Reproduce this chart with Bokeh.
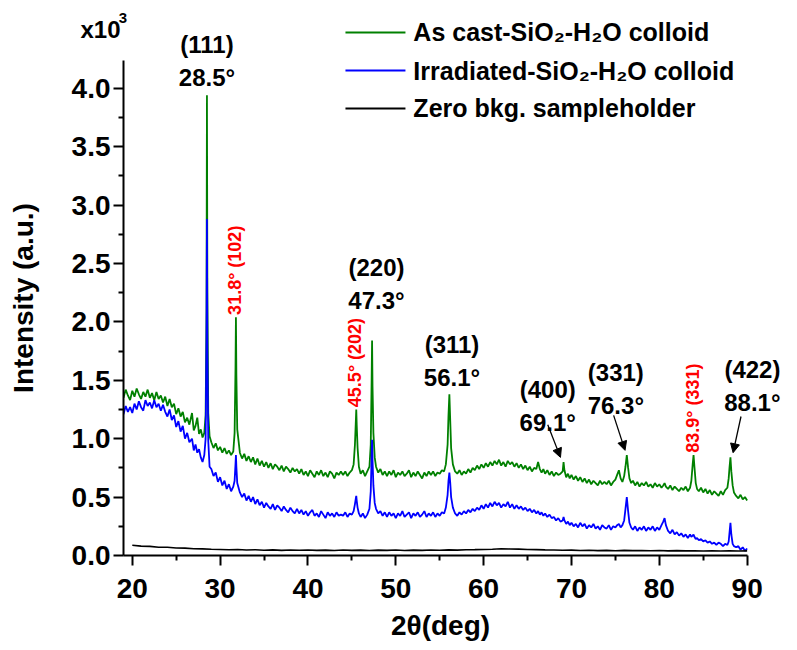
from bokeh.plotting import figure
from bokeh.models import FixedTicker, PrintfTickFormatter, Arrow, NormalHead, Range1d
from bokeh.core.properties import value
from bokeh.embed import file_html
from bokeh.resources import INLINE

# 2θ positions (deg) shared by the two colloid scans, one row per 5 degrees
two_theta = [
    19.0, 19.25, 19.5, 19.75, 20.0, 20.25, 20.5, 20.75, 21.0, 21.25, 21.5, 21.75, 22.0, 22.25, 22.5, 22.75, 23.0, 23.25, 23.5, 23.75,
    24.0, 24.25, 24.5, 24.75, 25.0, 25.25, 25.5, 25.75, 26.0, 26.25, 26.5, 26.8, 27.0, 27.2, 27.4, 27.6, 27.8, 28.0, 28.2, 28.35, 28.45, 28.5, 28.55, 28.65, 28.8,
    29.0, 29.25, 29.5, 29.75, 30.0, 30.25, 30.5, 30.75, 31.0, 31.25, 31.5, 31.65, 31.75, 31.8, 31.85, 31.95, 32.25, 32.5, 32.75, 33.0, 33.25, 33.5, 33.75,
    34.0, 34.25, 34.5, 34.75, 35.0, 35.25, 35.5, 35.75, 36.0, 36.25, 36.5, 36.75, 37.0, 37.25, 37.5, 37.75, 38.0, 38.25, 38.5, 38.75,
    39.0, 39.25, 39.5, 39.75, 40.0, 40.25, 40.5, 40.75, 41.0, 41.25, 41.5, 41.75, 42.0, 42.25, 42.5, 42.75, 43.0, 43.25, 43.5, 43.75,
    44.0, 44.25, 44.5, 44.75, 45.0, 45.2, 45.35, 45.45, 45.5, 45.55, 45.65, 45.8, 46.0, 46.25, 46.5, 46.75, 47.0, 47.15, 47.25, 47.3, 47.35, 47.45, 47.6, 47.75, 48.0, 48.25, 48.5, 48.75,
    49.0, 49.25, 49.5, 49.75, 50.0, 50.25, 50.5, 50.75, 51.0, 51.25, 51.5, 51.75, 52.0, 52.25, 52.5, 52.75, 53.0, 53.25, 53.5, 53.75,
    54.0, 54.25, 54.5, 54.75, 55.0, 55.25, 55.5, 55.7, 55.9, 56.0, 56.1, 56.2, 56.3, 56.5, 56.75, 57.0, 57.25, 57.5, 57.75, 58.0, 58.25, 58.5, 58.75,
    59.0, 59.25, 59.5, 59.75, 60.0, 60.25, 60.5, 60.75, 61.0, 61.25, 61.5, 61.75, 62.0, 62.25, 62.5, 62.75, 63.0, 63.25, 63.5, 63.75,
    64.0, 64.25, 64.5, 64.75, 65.0, 65.25, 65.5, 65.75, 66.0, 66.2, 66.4, 66.6, 66.8, 67.0, 67.25, 67.5, 67.75, 68.0, 68.25, 68.5, 68.75,
    69.0, 69.1, 69.2, 69.4, 69.6, 69.8, 70.0, 70.25, 70.5, 70.75, 71.0, 71.25, 71.5, 71.75, 72.0, 72.25, 72.5, 72.75, 73.0, 73.25, 73.5, 73.75,
    74.0, 74.25, 74.5, 74.75, 75.0, 75.2, 75.4, 75.6, 75.8, 76.0, 76.15, 76.3, 76.45, 76.6, 76.8, 77.0, 77.25, 77.5, 77.75, 78.0, 78.25, 78.5, 78.75,
    79.0, 79.25, 79.5, 79.75, 80.0, 80.25, 80.45, 80.6, 80.75, 81.0, 81.25, 81.5, 81.75, 82.0, 82.25, 82.5, 82.75, 83.0, 83.25, 83.5, 83.65, 83.8, 83.9,
    84.0, 84.15, 84.3, 84.5, 84.75, 85.0, 85.25, 85.5, 85.75, 86.0, 86.25, 86.5, 86.75, 87.0, 87.25, 87.5, 87.75, 87.9, 88.0, 88.1, 88.2, 88.35, 88.5, 88.75, 89.0, 89.25, 89.5, 89.75, 90.0,
]

# As cast SiO2-H2O colloid, intensity (x10^3 counts)
as_cast = [
    1.35, 1.42, 1.37, 1.33, 1.41, 1.36, 1.43, 1.38, 1.34, 1.40, 1.36, 1.42, 1.35, 1.39, 1.33, 1.40, 1.34, 1.37, 1.31, 1.36,
    1.28, 1.34, 1.27, 1.30, 1.21, 1.26, 1.19, 1.23, 1.14, 1.18, 1.12, 1.22, 1.07, 1.11, 1.18, 1.04, 1.08, 1.01, 1.05, 1.20, 2.10, 3.94, 2.25, 1.22, 1.02,
    0.97, 0.92, 0.96, 0.90, 0.93, 0.88, 0.92, 0.87, 0.90, 0.86, 0.89, 1.05, 1.60, 2.04, 1.55, 1.08, 0.88, 0.83, 0.87, 0.81, 0.85, 0.80, 0.84,
    0.78, 0.83, 0.77, 0.81, 0.76, 0.80, 0.75, 0.79, 0.74, 0.78, 0.76, 0.73, 0.77, 0.72, 0.76, 0.74, 0.71, 0.75, 0.72, 0.74,
    0.70, 0.74, 0.69, 0.72, 0.68, 0.73, 0.70, 0.67, 0.72, 0.69, 0.73, 0.68, 0.71, 0.67, 0.72, 0.70, 0.66, 0.71, 0.69, 0.72,
    0.69, 0.72, 0.68, 0.71, 0.73, 0.78, 0.95, 1.15, 1.25, 1.12, 0.92, 0.76, 0.70, 0.73, 0.68, 0.72, 0.76, 0.95, 1.50, 1.84, 1.45, 1.05, 0.84, 0.76, 0.71, 0.74, 0.69, 0.72,
    0.68, 0.72, 0.69, 0.73, 0.67, 0.71, 0.69, 0.72, 0.68, 0.70, 0.73, 0.67, 0.71, 0.68, 0.72, 0.69, 0.66, 0.71, 0.68, 0.72,
    0.69, 0.72, 0.68, 0.71, 0.70, 0.73, 0.72, 0.78, 0.95, 1.20, 1.38, 1.15, 0.92, 0.78, 0.72, 0.70, 0.73, 0.69, 0.72, 0.70, 0.74, 0.71, 0.75,
    0.73, 0.77, 0.74, 0.78, 0.75, 0.79, 0.76, 0.80, 0.77, 0.81, 0.78, 0.82, 0.77, 0.80, 0.76, 0.81, 0.78, 0.80, 0.76, 0.79,
    0.75, 0.78, 0.74, 0.77, 0.73, 0.76, 0.72, 0.75, 0.74, 0.80, 0.74, 0.71, 0.74, 0.70, 0.73, 0.69, 0.72, 0.68, 0.71, 0.69, 0.70,
    0.72, 0.80, 0.73, 0.67, 0.70, 0.66, 0.69, 0.65, 0.68, 0.64, 0.67, 0.63, 0.66, 0.62, 0.65, 0.61, 0.64, 0.62, 0.60, 0.64, 0.61, 0.63,
    0.61, 0.64, 0.60, 0.63, 0.65, 0.69, 0.73, 0.66, 0.63, 0.68, 0.76, 0.86, 0.75, 0.66, 0.62, 0.64, 0.60, 0.63, 0.59, 0.62, 0.60, 0.63, 0.59,
    0.61, 0.58, 0.62, 0.59, 0.61, 0.58, 0.60, 0.62, 0.59, 0.57, 0.60, 0.56, 0.59, 0.57, 0.55, 0.58, 0.56, 0.59, 0.55, 0.58, 0.64, 0.78, 0.86,
    0.76, 0.62, 0.57, 0.55, 0.58, 0.54, 0.57, 0.53, 0.56, 0.52, 0.55, 0.53, 0.51, 0.55, 0.52, 0.56, 0.58, 0.66, 0.76, 0.84, 0.72, 0.60, 0.54, 0.51, 0.49, 0.52, 0.48, 0.50, 0.47,
]

# Irradiated SiO2-H2O colloid, intensity (x10^3 counts)
irradiated = [
    1.21, 1.28, 1.23, 1.27, 1.22, 1.30, 1.25, 1.32, 1.27, 1.24, 1.33, 1.28, 1.31, 1.26, 1.33, 1.27, 1.30, 1.24, 1.29, 1.23,
    1.19, 1.25, 1.16, 1.20, 1.10, 1.15, 1.06, 1.11, 1.00, 1.05, 0.97, 1.00, 0.90, 0.95, 0.88, 0.91, 0.84, 0.80, 0.86, 1.00, 1.85, 2.88, 1.75, 0.98, 0.76,
    0.74, 0.68, 0.71, 0.63, 0.67, 0.60, 0.64, 0.57, 0.61, 0.55, 0.59, 0.64, 0.78, 0.86, 0.76, 0.62, 0.54, 0.50, 0.53, 0.47, 0.51, 0.46, 0.50,
    0.44, 0.48, 0.43, 0.46, 0.41, 0.45, 0.42, 0.40, 0.44, 0.39, 0.43, 0.41, 0.38, 0.42, 0.39, 0.37, 0.41, 0.38, 0.36, 0.40,
    0.36, 0.39, 0.35, 0.38, 0.34, 0.37, 0.39, 0.34, 0.36, 0.33, 0.38, 0.35, 0.32, 0.37, 0.34, 0.36, 0.33, 0.37, 0.34, 0.35,
    0.34, 0.37, 0.33, 0.36, 0.35, 0.38, 0.44, 0.49, 0.51, 0.47, 0.41, 0.36, 0.33, 0.36, 0.32, 0.35, 0.40, 0.55, 0.85, 0.99, 0.82, 0.60, 0.45, 0.40, 0.36, 0.38, 0.34, 0.37,
    0.33, 0.37, 0.34, 0.36, 0.32, 0.36, 0.34, 0.38, 0.33, 0.35, 0.37, 0.32, 0.36, 0.34, 0.37, 0.33, 0.35, 0.38, 0.33, 0.36,
    0.34, 0.37, 0.33, 0.36, 0.34, 0.37, 0.36, 0.41, 0.52, 0.64, 0.71, 0.62, 0.50, 0.41, 0.36, 0.34, 0.37, 0.35, 0.38, 0.36, 0.39, 0.37, 0.40,
    0.38, 0.41, 0.39, 0.43, 0.40, 0.44, 0.41, 0.45, 0.42, 0.46, 0.43, 0.45, 0.41, 0.44, 0.42, 0.46, 0.41, 0.44, 0.40, 0.43,
    0.40, 0.42, 0.39, 0.41, 0.38, 0.40, 0.37, 0.39, 0.36, 0.38, 0.35, 0.37, 0.34, 0.36, 0.33, 0.35, 0.32, 0.33, 0.30, 0.32, 0.29,
    0.30, 0.33, 0.30, 0.27, 0.29, 0.26, 0.28, 0.25, 0.27, 0.24, 0.28, 0.25, 0.27, 0.23, 0.26, 0.24, 0.27, 0.23, 0.25, 0.22, 0.26, 0.24,
    0.23, 0.26, 0.22, 0.25, 0.24, 0.26, 0.27, 0.24, 0.26, 0.30, 0.40, 0.50, 0.38, 0.28, 0.24, 0.22, 0.25, 0.21, 0.24, 0.22, 0.25, 0.21, 0.24,
    0.22, 0.25, 0.21, 0.24, 0.22, 0.26, 0.29, 0.32, 0.26, 0.21, 0.19, 0.22, 0.18, 0.20, 0.17, 0.19, 0.16, 0.18, 0.15, 0.18, 0.16, 0.17, 0.18,
    0.16, 0.14, 0.15, 0.13, 0.14, 0.12, 0.13, 0.11, 0.12, 0.10, 0.11, 0.09, 0.11, 0.10, 0.08, 0.10, 0.09, 0.12, 0.20, 0.28, 0.18, 0.10, 0.08, 0.07, 0.08, 0.05, 0.07, 0.04, 0.06,
]

# Zero background sample holder
bkg_theta = list(range(20, 91))
bkg = [
    0.088, 0.080, 0.078, 0.071, 0.070, 0.064, 0.063, 0.058, 0.057, 0.054,
    0.052, 0.049, 0.051, 0.047, 0.049, 0.045, 0.048, 0.044, 0.047, 0.045,
    0.047, 0.044, 0.046, 0.043, 0.047, 0.044, 0.046, 0.043, 0.046, 0.044,
    0.047, 0.043, 0.046, 0.044, 0.047, 0.045, 0.048, 0.046, 0.049, 0.050,
    0.052, 0.054, 0.058, 0.056, 0.055, 0.052, 0.050, 0.048, 0.047, 0.045,
    0.046, 0.043, 0.045, 0.042, 0.044, 0.041, 0.044, 0.042, 0.043, 0.041,
    0.043, 0.040, 0.042, 0.040, 0.041, 0.039, 0.041, 0.038, 0.040, 0.039,
    0.040,
]

series_names = ["As cast-SiO₂-H₂O colloid", "Irradiated-SiO₂-H₂O colloid", "Zero bkg. sampleholder"]
series_colors = ["#008000", "#0000FF", "#000000"]

# Si reflections (black) and secondary phase reflections (red)
si_hkl = ["(111)", "(220)", "(311)", "(400)", "(331)", "(422)"]
si_angle = [28.5, 47.3, 56.1, 69.1, 76.3, 88.1]
phase_hkl = ["(102)", "(202)", "(331)"]
phase_angle = [31.8, 45.5, 83.9]

x_ticks = [20, 30, 40, 50, 60, 70, 80, 90]
x_minor = [25, 35, 45, 55, 65, 75, 85]
y_ticks = [0.0, 0.5, 1.0, 1.5, 2.0, 2.5, 3.0, 3.5, 4.0]
y_minor = [0.25, 0.75, 1.25, 1.75, 2.25, 2.75, 3.25, 3.75]

FONT_NAME = "Liberation Sans"
FONT = value(FONT_NAME)

p = figure(width=797, height=650, output_backend="svg", toolbar_location=None,
           x_range=Range1d(19.0, 91.18), y_range=Range1d(0.0, 4.409),
           min_border_left=123, min_border_right=40, min_border_top=40,
           min_border_bottom=95)
p.outline_line_color = None
p.grid.visible = False
p.background_fill_color = "white"

p.line(two_theta, as_cast, line_color=series_colors[0], line_width=1.8)
p.line(two_theta, irradiated, line_color=series_colors[1], line_width=1.8)
p.line(bkg_theta, bkg, line_color=series_colors[2], line_width=1.6)

# axes
for ax in (p.xaxis[0], p.yaxis[0]):
    ax.axis_line_width = 2
    ax.major_tick_line_width = 2
    ax.minor_tick_line_width = 2
    ax.major_tick_in = 0
    ax.major_tick_out = 10
    ax.minor_tick_in = 0
    ax.minor_tick_out = 5
    ax.major_label_text_font = FONT_NAME
    ax.major_label_text_font_style = "bold"
    ax.major_label_text_font_size = "28px"
    ax.major_label_text_color = "black"
    ax.axis_label_text_font = FONT_NAME
    ax.axis_label_text_font_style = "bold"
    ax.axis_label_text_font_size = "28px"
    ax.axis_label_text_color = "black"

p.xaxis.ticker = FixedTicker(ticks=x_ticks, minor_ticks=x_minor)
p.xaxis.bounds = (19.0, 90.0)
p.xaxis.axis_label = "2θ(deg)"
p.xaxis.major_label_standoff = 13
p.xaxis.axis_label_standoff = 9

p.yaxis.ticker = FixedTicker(ticks=y_ticks, minor_ticks=y_minor)
p.yaxis.formatter = PrintfTickFormatter(format="%.1f")
p.yaxis.bounds = (0.0, 4.24)
p.yaxis.axis_label = "Intensity (a.u.)"
p.yaxis.major_label_standoff = 3
p.yaxis.major_label_orientation = "horizontal"
p.yaxis.axis_label_standoff = 30

# overlay level keeps these texts visible outside the data frame
BOLD = dict(text_font=FONT, text_font_style="bold", level="overlay")

# scale factor above the y axis
p.text(x=[14.1], y=[4.50], text=["x10"], text_font_size="24px", text_color="black",
       text_align="left", text_baseline="alphabetic", **BOLD)
p.text(x=[18.45], y=[4.60], text=["3"], text_font_size="15px", text_color="black",
       text_align="left", text_baseline="alphabetic", **BOLD)

# legend drawn as sample segments plus labels
leg_y = [4.478, 4.152, 3.827]
p.segment(x0=[44.27] * 3, y0=leg_y, x1=[51.10] * 3, y1=leg_y,
          line_color=series_colors, line_width=2, level="overlay")
p.text(x=[52.0] * 3, y=leg_y, text=series_names, text_font_size="25px",
       text_align="left", text_baseline="middle", text_color="black", **BOLD)

# Si peak labels: hkl line above the angle line
lbl_x = [28.5, 47.8, 56.4, 67.3, 75.05, 90.6]
lbl_y = [4.375, 2.465, 1.805, 1.425, 1.565, 1.595]
p.text(x=lbl_x, y=lbl_y, text=si_hkl, text_font_size="24px", text_align="center",
       text_baseline="alphabetic", text_color="black", **BOLD)
p.text(x=lbl_x, y=[v - 0.285 for v in lbl_y], text=[f"{a}°" for a in si_angle],
       text_font_size="24px", text_align="center", text_baseline="alphabetic",
       text_color="black", **BOLD)

# arrows to the weak Si peaks
peak_of = dict(zip(two_theta, as_cast))
arrow_from = [(67.3, 1.12), (74.8, 1.20), (89.3, 1.19)]
arrow_tip_x = [68.75, 76.1, 88.4]
for (x0, y0), xt, ang in zip(arrow_from, arrow_tip_x, si_angle[3:]):
    p.add_layout(Arrow(x_start=x0, y_start=y0, x_end=xt, y_end=peak_of[ang] + 0.04,
                       line_color="black", line_width=1.3,
                       end=NormalHead(size=9, fill_color="black", line_color="black")))

# secondary phase labels, rotated, sitting on top of their peaks
p.text(x=[a - 0.1 for a in phase_angle],
       y=[peak_of[a] + 0.02 for a in phase_angle],
       text=[f"{a}° {h}" for a, h in zip(phase_angle, phase_hkl)],
       angle=1.5708, text_font_size="18px", text_align="left",
       text_baseline="middle", text_color="#FF0000", **BOLD)

open("out.html", "w").write(file_html(p, INLINE))
